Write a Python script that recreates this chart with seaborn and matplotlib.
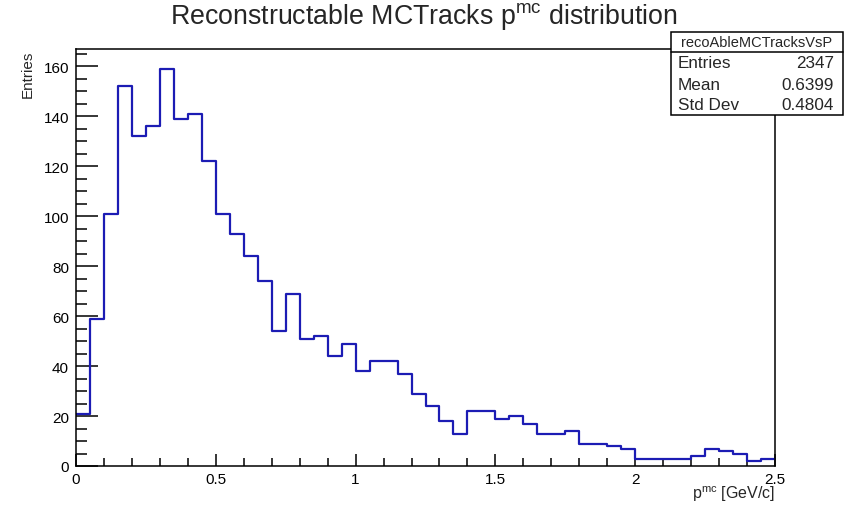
import numpy as np
import pandas as pd
import matplotlib
matplotlib.use("Agg")
import matplotlib.pyplot as plt
from matplotlib.ticker import MultipleLocator
from matplotlib.patches import Rectangle
import seaborn as sns

# ---- data ----
bin_edges = [round(0.05 * i, 2) for i in range(51)]
counts = [21, 59, 101, 152, 132, 136, 159, 139, 141, 122,
          101, 93, 84, 74, 54, 69, 51, 52, 44, 49,
          38, 42, 42, 37, 29, 24, 18, 13, 22, 22,
          19, 20, 17, 13, 13, 14, 9, 9, 8, 7,
          3, 3, 3, 3, 4, 7, 6, 5, 2, 3]
hist_name = "recoAbleMCTracksVsP"
stat_labels = ["Entries", "Mean", "Std Dev"]
stat_values = ["2347", "0.6399", "0.4804"]
x_ticks = [0, 0.5, 1, 1.5, 2, 2.5]
x_ticklabels = ["0", "0.5", "1", "1.5", "2", "2.5"]
y_ticks = [0, 20, 40, 60, 80, 100, 120, 140, 160]

centers = [(bin_edges[i] + bin_edges[i + 1]) / 2 for i in range(len(counts))]
df = pd.DataFrame({"p": centers, "n": counts})

sns.set_style("ticks")
plt.rcParams["font.family"] = ["Liberation Sans", "DejaVu Sans"]
plt.rcParams["mathtext.fontset"] = "custom"
plt.rcParams["mathtext.rm"] = "Liberation Sans"
plt.rcParams["mathtext.it"] = "Liberation Sans"

W, H = 848, 506
fig = plt.figure(figsize=(W / 100, H / 100), dpi=100)
ax = fig.add_axes([76 / W, 1 - 467 / H, (775 - 76) / W, (467 - 50) / H])

sns.histplot(data=df, x="p", weights="n", bins=bin_edges, element="step",
             fill=False, color="#1c1cb4", linewidth=1.6, ax=ax)

ax.set_xlim(0, 2.5)
ax.set_ylim(0, 167)
ax.set_xticks(x_ticks)
ax.set_xticklabels(x_ticklabels)
ax.set_yticks(y_ticks)
ax.xaxis.set_minor_locator(MultipleLocator(0.1))
ax.yaxis.set_minor_locator(MultipleLocator(5))
ax.tick_params(axis="both", which="both", direction="in", top=False, right=False,
               labelsize=11, colors="black", width=1.1)
ax.tick_params(axis="y", which="major", length=16, pad=5)
ax.tick_params(axis="y", which="minor", length=8)
ax.tick_params(axis="x", which="major", length=9, pad=4)
ax.tick_params(axis="x", which="minor", length=5.5)
for s in ax.spines.values():
    s.set_visible(True)
    s.set_color("black")
    s.set_linewidth(1.1)
ax.set_xlabel("")
ax.set_ylabel("")
ax.grid(False)

# title
fig.text(424 / W, 1 - 17 / H, r"Reconstructable MCTracks p$^{\mathrm{mc}}$ distribution",
         ha="center", va="center", fontsize=19.3)
# axis titles
fig.text(28 / W, 1 - 51 / H, "Entries", rotation=90, ha="center", va="top", fontsize=11)
fig.text(775 / W, 1 - 494 / H, r"p$^{\mathrm{mc}}$ [GeV/c]", ha="right", va="center",
         fontsize=11.5)

# stats box
bx0, bx1, by0, by1, ysep = 671, 843, 33, 116, 53
fig.patches.append(Rectangle((bx0 / W, 1 - by1 / H), (bx1 - bx0) / W, (by1 - by0) / H,
                             transform=fig.transFigure, facecolor="white",
                             edgecolor="black", linewidth=1.1, zorder=5))
fig.lines.append(plt.Line2D([bx0 / W, bx1 / W], [1 - ysep / H, 1 - ysep / H],
                            transform=fig.transFigure, color="black", linewidth=1.1,
                            zorder=6))
fig.text((bx0 + bx1) / 2 / W, 1 - 43 / H, hist_name, ha="center", va="center",
         fontsize=10.5, zorder=7)
row_y = [64, 85, 105]
for lab, val, yy in zip(stat_labels, stat_values, row_y):
    fig.text(678 / W, 1 - yy / H, lab, ha="left", va="center", fontsize=12.3, zorder=7)
    fig.text(834 / W, 1 - yy / H, val, ha="right", va="center", fontsize=12.3, zorder=7)

fig.savefig("out.png", dpi=100)
